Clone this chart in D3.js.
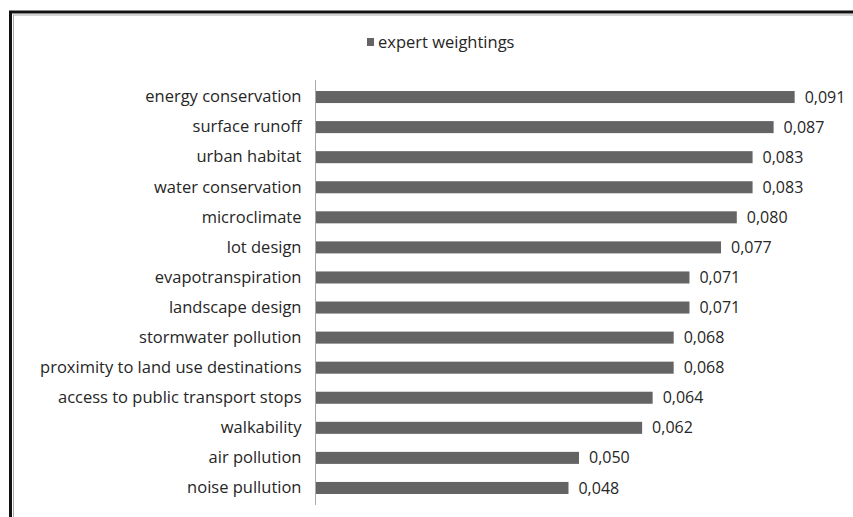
<!DOCTYPE html>
<html>
<head>
<meta charset="utf-8">
<script src="https://cdn.jsdelivr.net/npm/d3@7"></script>
<style>
  body { margin: 0; background: #fff; }
  svg text { font-family: "Open Sans", sans-serif; fill: #262626; }
</style>
</head>
<body>
<div id="chart"></div>
<script>
const categories = [
  "energy conservation",
  "surface runoff",
  "urban habitat",
  "water conservation",
  "microclimate",
  "lot design",
  "evapotranspiration",
  "landscape design",
  "stormwater pollution",
  "proximity to land use destinations",
  "access to public transport stops",
  "walkability",
  "air pollution",
  "noise pullution"
];
const weights = [0.091, 0.087, 0.083, 0.083, 0.080, 0.077, 0.071, 0.071, 0.068, 0.068, 0.064, 0.062, 0.050, 0.048];
const seriesName = "expert weightings";

const W = 853, H = 517;
const svg = d3.select("#chart").append("svg")
  .attr("width", W).attr("height", H);

// frame of the original figure (runs off the right and bottom edges)
svg.append("rect")
  .attr("x", 10.5).attr("y", 12)
  .attr("width", W + 20).attr("height", H + 20)
  .attr("fill", "none").attr("stroke", "#111").attr("stroke-width", 3);
svg.append("rect")
  .attr("x", 13.5).attr("y", 15)
  .attr("width", W + 20).attr("height", H + 20)
  .attr("fill", "none").attr("stroke", "#aaa").attr("stroke-width", 1);

var x = d3.scaleLinear().domain([0, 0.1]).range([316, 842]);
var y = d3.scaleBand().domain(categories).range([82, 503]).paddingInner(0.6).paddingOuter(0.3);

// category axis
const yAxis = svg.append("g")
  .attr("transform", "translate(315.5,0)")
  .call(d3.axisLeft(y).tickSize(0).tickPadding(14));
yAxis.select(".domain").attr("stroke", "#aaa").attr("d", "M0,80V505");
yAxis.selectAll("text").style("font-size", "16.5px").attr("fill", "#262626");

const data = categories.map((c, i) => ({ key: c, value: weights[i] }));

svg.append("g").selectAll("rect")
  .data(data).enter().append("rect")
  .attr("x", x(0))
  .attr("y", d => y(d.key))
  .attr("width", d => x(d.value) - x(0))
  .attr("height", y.bandwidth())
  .attr("fill", "#646464");

svg.append("g").selectAll("text")
  .data(data).enter().append("text")
  .attr("x", d => x(d.value) + 10)
  .attr("y", d => y(d.key) + y.bandwidth() / 2)
  .attr("dy", "0.35em")
  .style("font-size", "16px")
  .text(d => d3.format(".3f")(d.value).replace(".", ","));

// legend
const lg = svg.append("g").attr("transform", "translate(367,38)");
lg.append("rect").attr("width", 7).attr("height", 8).attr("fill", "#646464");
lg.append("text").attr("x", 11).attr("y", 4).attr("dy", "0.35em")
  .style("font-size", "16.5px").text(seriesName);
</script>
</body>
</html>
